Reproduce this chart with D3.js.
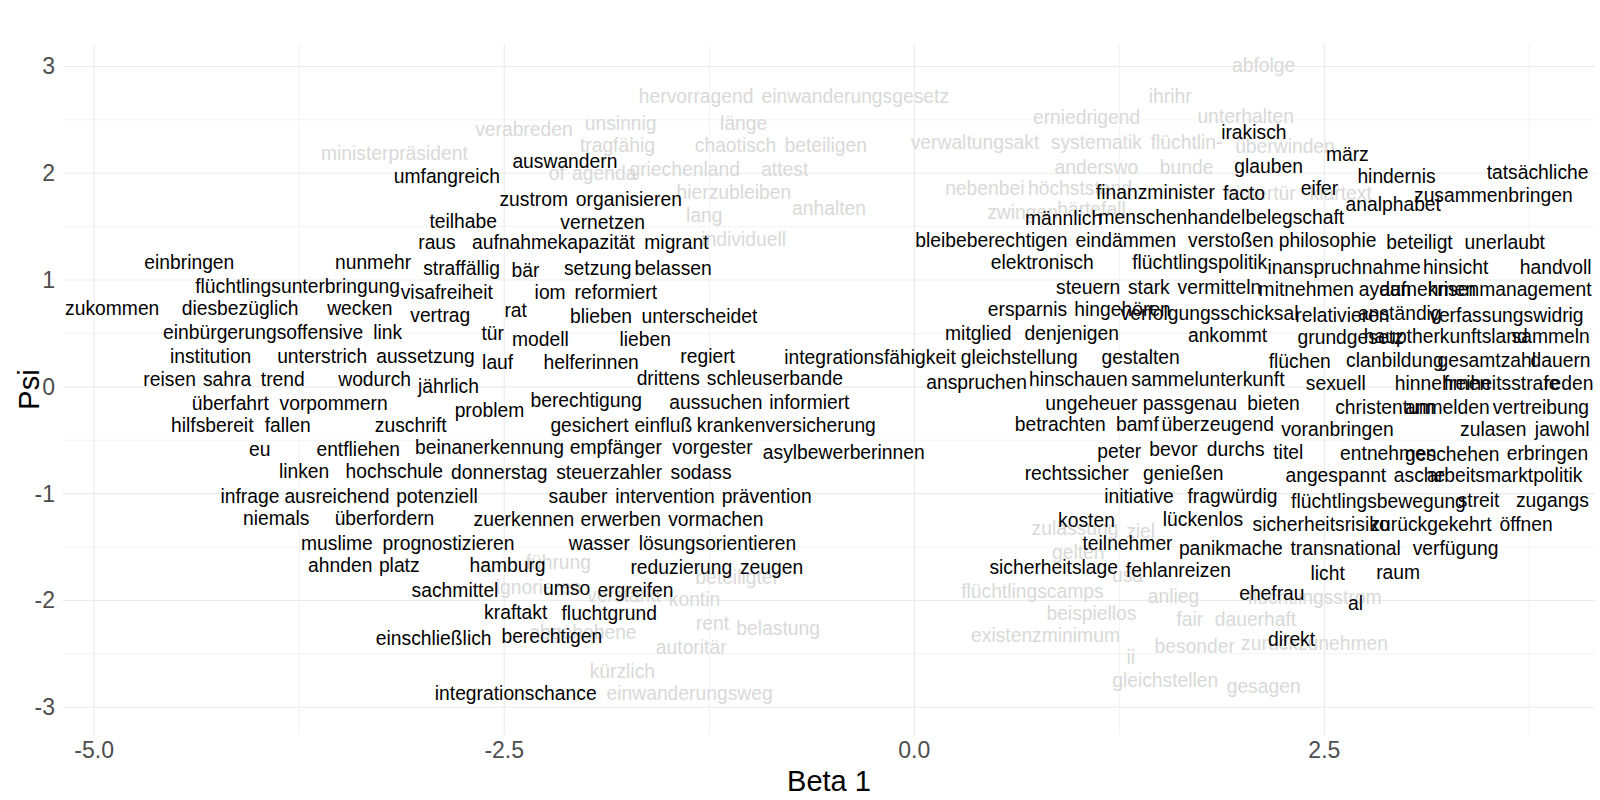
<!DOCTYPE html>
<html>
<head>
<meta charset="utf-8">
<script src="https://cdn.jsdelivr.net/npm/d3@7"></script>
<style>
  body { margin: 0; background: #fff; }
  svg text { font-family: "Liberation Sans", Arial, sans-serif; }
  .grid-major { stroke: #ebebeb; stroke-width: 1.1; }
  .grid-minor { stroke: #ebebeb; stroke-width: 0.6; }
  .tick-label { fill: #4d4d4d; font-size: 23px; }
  .axis-title { fill: #000; font-size: 29px; }
  .word { font-size: 19.3px; }
</style>
</head>
<body>
<script>
const WIDTH = 1600
const HEIGHT = 800

// highlighted words (black)
var topWords = ["irakisch","märz","auswandern","umfangreich","glauben","hindernis","tatsächliche","eifer","facto","finanzminister",
  "analphabet","zusammenbringen","zustrom","organisieren","teilhabe","vernetzen","raus","aufnahmekapazität","migrant","straffällig",
  "bär","setzung","belassen","männlich","menschenhandel","belegschaft","bleibeberechtigen","eindämmen","verstoßen","philosophie",
  "beteiligt","unerlaubt","elektronisch","flüchtlingspolitik","inanspruchnahme","hinsicht","handvoll","steuern","stark","vermitteln",
  "mitnehmen","aydan","aufnehmen","krisenmanagement","ersparnis","hingehören","verfolgungsschicksal","relativieren","anständig","verfassungswidrig",
  "mitglied","denjenigen","ankommt","grundgesetz","hauptherkunftsland","sammeln","integrationsfähigkeit","regiert","gleichstellung","gestalten",
  "flüchen","clanbildung","gesamtzahl","dauern","anspruchen","hinschauen","sammelunterkunft","sexuell","hinnehmen","freiheitsstrafe",
  "reden","ungeheuer","passgenau","bieten","christentum","anmelden","vertreibung","betrachten","bamf","überzeugend",
  "voranbringen","zulasen","jawohl","peter","bevor","durchs","titel","entnehmen","geschehen","erbringen",
  "rechtssicher","genießen","angespannt","asche","arbeitsmarktpolitik","initiative","fragwürdig","flüchtlingsbewegung","streit","zugangs",
  "kosten","lückenlos","sicherheitsrisiko","zurückgekehrt","öffnen","teilnehmer","panikmache","transnational","verfügung","sicherheitslage",
  "fehlanreizen","licht","raum","ehefrau","al","direkt",
  "einbringen","nunmehr","flüchtlingsunterbringung","visafreiheit","zukommen","diesbezüglich","wecken","vertrag","rat","iom",
  "reformiert","blieben","unterscheidet","einbürgerungsoffensive","link","tür","modell","lieben","institution","unterstrich",
  "aussetzung","lauf","helferinnen","reisen","sahra","trend","wodurch","jährlich","drittens","schleuserbande",
  "überfahrt","vorpommern","problem","berechtigung","aussuchen","informiert","hilfsbereit","fallen","zuschrift","gesichert",
  "einfluß","krankenversicherung","eu","entfliehen","beinanerkennung","empfänger","vorgester","asylbewerberinnen","linken","hochschule",
  "donnerstag","steuerzahler","sodass","infrage","ausreichend","potenziell","sauber","intervention","prävention","niemals",
  "überfordern","zuerkennen","erwerben","vormachen","muslime","prognostizieren","wasser","lösungsorientieren","ahnden","platz",
  "hamburg","reduzierung","zeugen","sachmittel","umso","ergreifen","kraftakt","fluchtgrund","einschließlich","berechtigen",
  "integrationschance"]
var topBeta = [2.07,2.64,-2.13,-2.85,2.16,2.94,3.80,2.47,2.01,1.47,
  2.92,3.53,-2.32,-1.74,-2.75,-1.90,-2.91,-2.20,-1.45,-2.76,
  -2.37,-1.93,-1.47,0.91,1.57,2.32,0.47,1.29,1.93,2.52,
  3.08,3.60,0.78,1.74,2.62,3.30,3.91,1.06,1.43,1.86,
  2.39,2.87,3.13,3.63,0.69,1.27,1.80,2.61,2.96,3.61,
  0.39,0.96,1.91,2.66,3.24,3.88,-0.27,-1.26,0.64,1.38,
  2.35,2.93,3.49,3.94,0.38,1.00,1.79,2.57,3.22,3.58,
  3.99,1.08,1.68,2.19,2.87,3.25,3.82,0.89,1.36,1.85,
  2.58,3.53,3.95,1.25,1.58,1.96,2.28,2.89,3.28,3.86,
  0.99,1.64,2.57,3.08,3.60,1.37,1.94,2.83,3.44,3.89,
  1.05,1.76,2.48,3.15,3.73,1.30,1.93,2.63,3.30,0.85,
  1.61,2.52,2.95,2.18,2.69,2.30,
  -4.42,-3.30,-3.76,-2.85,-4.89,-4.11,-3.38,-2.89,-2.43,-2.22,
  -1.82,-1.91,-1.31,-3.97,-3.21,-2.57,-2.28,-1.64,-4.29,-3.61,
  -2.98,-2.54,-1.97,-4.54,-4.19,-3.85,-3.29,-2.84,-1.50,-0.85,
  -4.17,-3.54,-2.59,-2.00,-1.21,-0.64,-4.28,-3.82,-3.07,-1.98,
  -1.53,-0.78,-3.99,-3.39,-2.59,-1.82,-1.23,-0.43,-3.72,-3.17,
  -2.53,-1.86,-1.30,-4.05,-3.52,-2.91,-2.05,-1.52,-0.90,-3.89,
  -3.23,-2.38,-1.79,-1.21,-3.52,-2.84,-1.92,-1.20,-3.50,-3.14,
  -2.48,-1.42,-0.87,-2.80,-2.12,-1.70,-2.43,-1.86,-2.93,-2.21,
  -2.43]
var topPsi = [2.38,2.18,2.11,1.97,2.07,1.97,2.01,1.86,1.81,1.82,
  1.71,1.79,1.76,1.76,1.55,1.54,1.35,1.35,1.35,1.11,
  1.09,1.11,1.11,1.58,1.59,1.59,1.37,1.37,1.37,1.37,
  1.35,1.35,1.17,1.17,1.12,1.12,1.12,0.93,0.93,0.93,
  0.91,0.91,0.91,0.91,0.73,0.73,0.69,0.67,0.69,0.67,
  0.50,0.50,0.48,0.46,0.47,0.47,0.28,0.29,0.28,0.28,
  0.24,0.25,0.25,0.25,0.04,0.07,0.07,0.03,0.03,0.03,
  0.03,-0.15,-0.15,-0.15,-0.19,-0.19,-0.19,-0.35,-0.35,-0.35,
  -0.40,-0.40,-0.40,-0.60,-0.58,-0.58,-0.61,-0.62,-0.63,-0.62,
  -0.81,-0.81,-0.83,-0.83,-0.83,-1.02,-1.02,-1.07,-1.06,-1.06,
  -1.25,-1.24,-1.29,-1.29,-1.29,-1.46,-1.51,-1.51,-1.51,-1.69,
  -1.72,-1.75,-1.74,-1.93,-2.03,-2.36,
  1.17,1.17,0.94,0.89,0.74,0.74,0.74,0.67,0.72,0.89,
  0.89,0.66,0.66,0.51,0.51,0.50,0.45,0.45,0.29,0.29,
  0.29,0.23,0.23,0.07,0.07,0.07,0.07,0.01,0.08,0.08,
  -0.15,-0.15,-0.22,-0.13,-0.14,-0.14,-0.36,-0.36,-0.36,-0.36,
  -0.36,-0.36,-0.58,-0.58,-0.57,-0.57,-0.57,-0.61,-0.79,-0.79,
  -0.80,-0.80,-0.80,-1.02,-1.02,-1.02,-1.02,-1.02,-1.02,-1.23,
  -1.23,-1.24,-1.24,-1.24,-1.46,-1.46,-1.46,-1.46,-1.67,-1.67,
  -1.67,-1.69,-1.69,-1.90,-1.89,-1.90,-2.11,-2.12,-2.35,-2.34,
  -2.87]

// other words (grey)
var restWords = ["abfolge","hervorragend","einwanderungsgesetz","ihrihr","unsinnig","verabreden","länge","erniedrigend","unterhalten","ministerpräsident",
  "tragfähig","chaotisch","beteiligen","verwaltungsakt","systematik","flüchtlin-","überwinden","griechenland","attest","anderswo",
  "bunde","of","agenda","hierzubleiben","nebenbei","höchststand","klartext","hintertür","anhalten","lang",
  "individuell","zwingen","härtefall","zulassung","ziel","gelten","usa","flüchtlingscamps","anlieg","flüchtlingsstrom",
  "beispiellos","fair","dauerhaft","existenzminimum","besonder","zurückzunehmen","ii","gleichstellen","gesagen","führung",
  "beteiligter","ignorieren","verstärkt","kontin","rent","belastung","abgehobene","autoritär","kürzlich","einwanderungsweg"]
var restBeta = [2.13,-1.33,-0.36,1.56,-1.79,-2.38,-1.04,1.05,2.02,-3.17,
  -1.81,-1.09,-0.54,0.37,1.11,1.66,2.26,-1.40,-0.79,1.11,
  1.66,-2.18,-1.89,-1.10,0.43,1.01,2.60,2.11,-0.52,-1.28,
  -1.04,0.66,1.08,0.98,1.38,1.00,1.30,0.72,1.58,2.44,
  1.08,1.68,2.08,0.80,1.71,2.44,1.32,1.53,2.13,-2.17,
  -1.08,-2.29,-1.77,-1.34,-1.23,-0.83,-2.02,-1.36,-1.78,-1.37]
var restPsi = [3.01,2.72,2.72,2.72,2.47,2.41,2.47,2.52,2.53,2.19,
  2.26,2.26,2.26,2.29,2.29,2.29,2.25,2.04,2.04,2.06,
  2.06,2.00,2.00,1.82,1.86,1.86,1.81,1.81,1.67,1.61,
  1.38,1.63,1.66,-1.32,-1.35,-1.55,-1.76,-1.91,-1.96,-1.97,
  -2.12,-2.18,-2.18,-2.33,-2.43,-2.40,-2.53,-2.75,-2.80,-1.64,
  -1.78,-1.88,-1.95,-1.99,-2.21,-2.26,-2.30,-2.44,-2.66,-2.87]

var xTicks = [-5.0,-2.5,0.0,2.5]
var xMinor = [-3.75,-1.25,1.25,3.75]
var yTicks = [-3,-2,-1,0,1,2,3]
var yMinor = [-2.5,-1.5,-0.5,0.5,1.5,2.5]

// plain hyphen for negatives, like the original
var fmt = d3.formatLocale({decimal: ".", thousands: ",", grouping: [3], currency: ["", ""], minus: "-"});

var createChart = function(){
    var svg = d3.select("body").append("svg")
        .attr("width",WIDTH)
        .attr("height",HEIGHT);

    var x = d3.scaleLinear().domain([-5.19,4.15]).range([63,1595]);
    var y = d3.scaleLinear().domain([-3.26,3.21]).range([735,44]);

    drawGrid(svg,x,y);
    drawAxes(svg,x,y);
    drawWords(svg,x,y,restWords,restBeta,restPsi,"#d9d9d9");
    drawWords(svg,x,y,topWords,topBeta,topPsi,"#000000");
}

var drawGrid = function(svg,x,y){
    var g = svg.append("g");
    g.selectAll("line.vminor").data(xMinor).enter().append("line")
        .classed("grid-minor",true)
        .attr("x1",d => x(d)).attr("x2",d => x(d))
        .attr("y1",y.range()[0]).attr("y2",y.range()[1]);
    g.selectAll("line.hminor").data(yMinor).enter().append("line")
        .classed("grid-minor",true)
        .attr("y1",d => y(d)).attr("y2",d => y(d))
        .attr("x1",x.range()[0]).attr("x2",x.range()[1]);
    g.selectAll("line.vmajor").data(xTicks).enter().append("line")
        .classed("grid-major",true)
        .attr("x1",d => x(d)).attr("x2",d => x(d))
        .attr("y1",y.range()[0]).attr("y2",y.range()[1]);
    g.selectAll("line.hmajor").data(yTicks).enter().append("line")
        .classed("grid-major",true)
        .attr("y1",d => y(d)).attr("y2",d => y(d))
        .attr("x1",x.range()[0]).attr("x2",x.range()[1]);
}

var drawAxes = function(svg,x,y){
    svg.selectAll("text.xtick").data(xTicks).enter().append("text")
        .classed("tick-label",true)
        .attr("x",d => x(d))
        .attr("y",758)
        .attr("text-anchor","middle")
        .text(d => fmt.format(".1f")(d));
    svg.selectAll("text.ytick").data(yTicks).enter().append("text")
        .classed("tick-label",true)
        .attr("x",55)
        .attr("y",d => y(d))
        .attr("dy","0.35em")
        .attr("text-anchor","end")
        .text(d => fmt.format("d")(d));
    svg.append("text").classed("axis-title",true)
        .attr("x",(x.range()[0]+x.range()[1])/2)
        .attr("y",791)
        .attr("text-anchor","middle")
        .text("Beta 1");
    svg.append("text").classed("axis-title",true)
        .attr("transform","translate(29,"+(y.range()[0]+y.range()[1])/2+") rotate(-90)")
        .attr("dy","0.35em")
        .attr("text-anchor","middle")
        .text("Psi");
}

var drawWords = function(svg,x,y,words,beta,psi,colour){
    svg.append("g").selectAll("text").data(words).enter().append("text")
        .classed("word",true)
        .attr("x",(d,i) => x(beta[i]))
        .attr("y",(d,i) => y(psi[i]))
        .attr("dy","0.35em")
        .attr("text-anchor","middle")
        .attr("fill",colour)
        .text(d => d);
}

createChart();
</script>
</body>
</html>
